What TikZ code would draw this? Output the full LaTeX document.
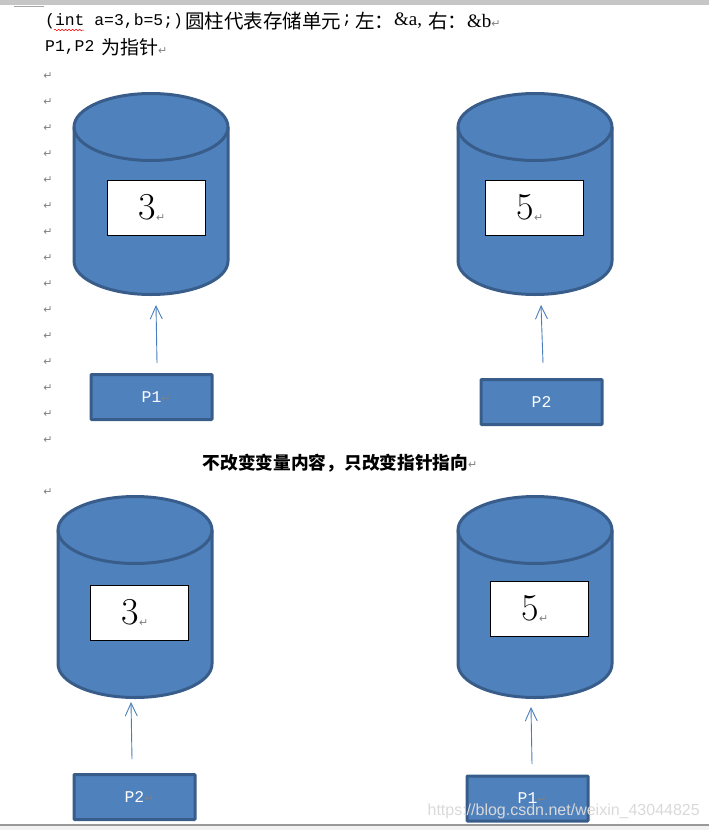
\documentclass[tikz,border=0pt]{standalone}
\usepackage{fontspec}
\usetikzlibrary{arrows.meta}
\usetikzlibrary{decorations.pathmorphing}
\newfontfamily\cjk{Noto Sans CJK SC}
\newfontfamily\retfont{DejaVu Sans}
\newfontfamily\romfont{Liberation Serif}
\newfontfamily\codefont{Liberation Mono}
\newfontfamily\markfont{Liberation Sans}
\definecolor{cylfill}{HTML}{4F81BD}
\definecolor{cylline}{HTML}{385D8A}
\definecolor{ptrline}{HTML}{4A7EBB}
\definecolor{retgray}{HTML}{808080}
\newcommand{\retmark}{{\retfont\fontsize{11}{11}\selectfont\textcolor{retgray}{↵}}}
\tikzset{
  ptr/.style = {-{Straight Barb[length=13pt,width=12pt]}, ptrline, line width=0.9pt},
  valbox/.style = {draw=black, fill=white, line width=0.8pt, minimum width=98pt, minimum height=55pt, inner sep=0pt,
                   font=\fontsize{38}{38}\selectfont},
  ptrbox/.style = {draw=cylline, fill=cylfill, line width=3pt, rounded corners=0.8pt, minimum width=121pt, minimum height=45pt,
                   inner sep=0pt, text=white, font=\codefont\fontsize{16.4}{16.4}\selectfont},
  doc/.style = {anchor=west, inner sep=0pt, font=\codefont\fontsize{16.4}{19}\selectfont},
  doccjk/.style = {anchor=west, inner sep=0pt, font=\cjk\fontsize{19.5}{19.5}\selectfont},
  docrom/.style = {anchor=west, inner sep=0pt, font=\romfont\fontsize{19}{19}\selectfont},
  pics/storecyl/.style = {code={
    \draw[draw=cylline, fill=cylfill, line width=3pt]
      (-77,0) -- (-77,134) arc[start angle=180, end angle=0, x radius=77, y radius=33.5] -- (77,0)
      arc[start angle=0, end angle=-180, x radius=77, y radius=33.5] -- cycle;
    \draw[draw=cylline, line width=3pt] (-77,0) arc[start angle=180, end angle=0, x radius=77, y radius=33.5];
  }}
}
\begin{document}
\begin{tikzpicture}[x=1pt, y=-1pt]
    \useasboundingbox (0,0) rectangle (709,830);
    % window edges
    \fill[gray!45] (0,0) rectangle (709,5);
    \draw[gray!70, line width=0.8pt] (14,6) -- (44,6);
    \fill[gray!10] (0,826) rectangle (709,830);
    \fill[gray!80] (0,823.5) rectangle (709,826);

    % document lines
    \node[doc] (line1a) at (45,21) {(int a=3,b=5;)};
    \node[doccjk] (line1b) at (185,21) {圆柱代表存储单元};
    \node[doc] (line1c) at (342,21) {;};
    \node[doccjk] (line1d) at (355,21) {左^^^^ff1a};
    \node[docrom] (line1e) at (394,21) {\&a,};
    \node[doccjk] (line1f) at (428,21) {右^^^^ff1a};
    \node[docrom] (line1g) at (467,21) {\&b\retmark};
    \draw[red, line width=0.5pt, decorate, decoration={snake, amplitude=0.8pt, segment length=3.5pt}] (54,30) -- (84,30);
    \node[doc] (line2a) at (45,47) {P1,P2};
    \node[doccjk, font=\cjk\fontsize{19}{19}\selectfont] (line2b) at (101,47) {为指针\retmark};
    \node[anchor=center, inner sep=0pt, font=\cjk\bfseries\fontsize{17.7}{17.7}\selectfont] (title) at (335.5,463) {不改变变量内容^^^^ff0c只改变指针指向};
    \node[anchor=west, inner sep=0pt] (titlemark) at (468,465) {\retmark};

    \foreach \y in {75,101,...,439,491}
      \node[inner sep=0pt] (ret\y) at (48,\y+1) {\retmark};

    % first row
    \pic at (151,127) {storecyl};
    \pic at (535,127) {storecyl};
    \node[valbox] (valA) at (156.5,208) {\hspace{-18pt}3\rlap{\raisebox{-2pt}{\retmark}}};
    \node[valbox] (valB) at (534.5,208) {\hspace{-18pt}5\rlap{\raisebox{-2pt}{\retmark}}};
    \node[ptrbox] (ptrA) at (151.5,397) {P1\rlap{\retmark}};
    \node[ptrbox] (ptrB) at (541.5,402) {P2};
    \coordinate (tipA) at (156,305);
    \coordinate (tipB) at (541,305);
    \coordinate (tailA) at (157,363);
    \coordinate (tailB) at (543,363);
    \draw[ptr] (tailA) -- (tipA);
    \draw[ptr] (tailB) -- (tipB);

    % second row
    \pic at (135,530) {storecyl};
    \pic at (535,530) {storecyl};
    \node[valbox] (valC) at (139.5,613) {\hspace{-18pt}3\rlap{\raisebox{-2pt}{\retmark}}};
    \node[valbox] (valD) at (539.5,609) {\hspace{-18pt}5\rlap{\raisebox{-2pt}{\retmark}}};
    \node[ptrbox] (ptrC) at (134.5,797) {P2\rlap{\retmark}};
    \node[ptrbox] (ptrD) at (527.5,798.5) {P1\rlap{\retmark}};
    \coordinate (tipC) at (131,702);
    \coordinate (tipD) at (531,707);
    \coordinate (tailC) at (132,759);
    \coordinate (tailD) at (532,764);
    \draw[ptr] (tailC) -- (tipC);
    \draw[ptr] (tailD) -- (tipD);

    % watermark
    \node[anchor=east, inner sep=0pt, text=gray!30, font=\markfont\fontsize{16}{16}\selectfont] (mark) at (700,811) {https://blog.csdn.net/weixin\_43044825};
\end{tikzpicture}
\end{document}
